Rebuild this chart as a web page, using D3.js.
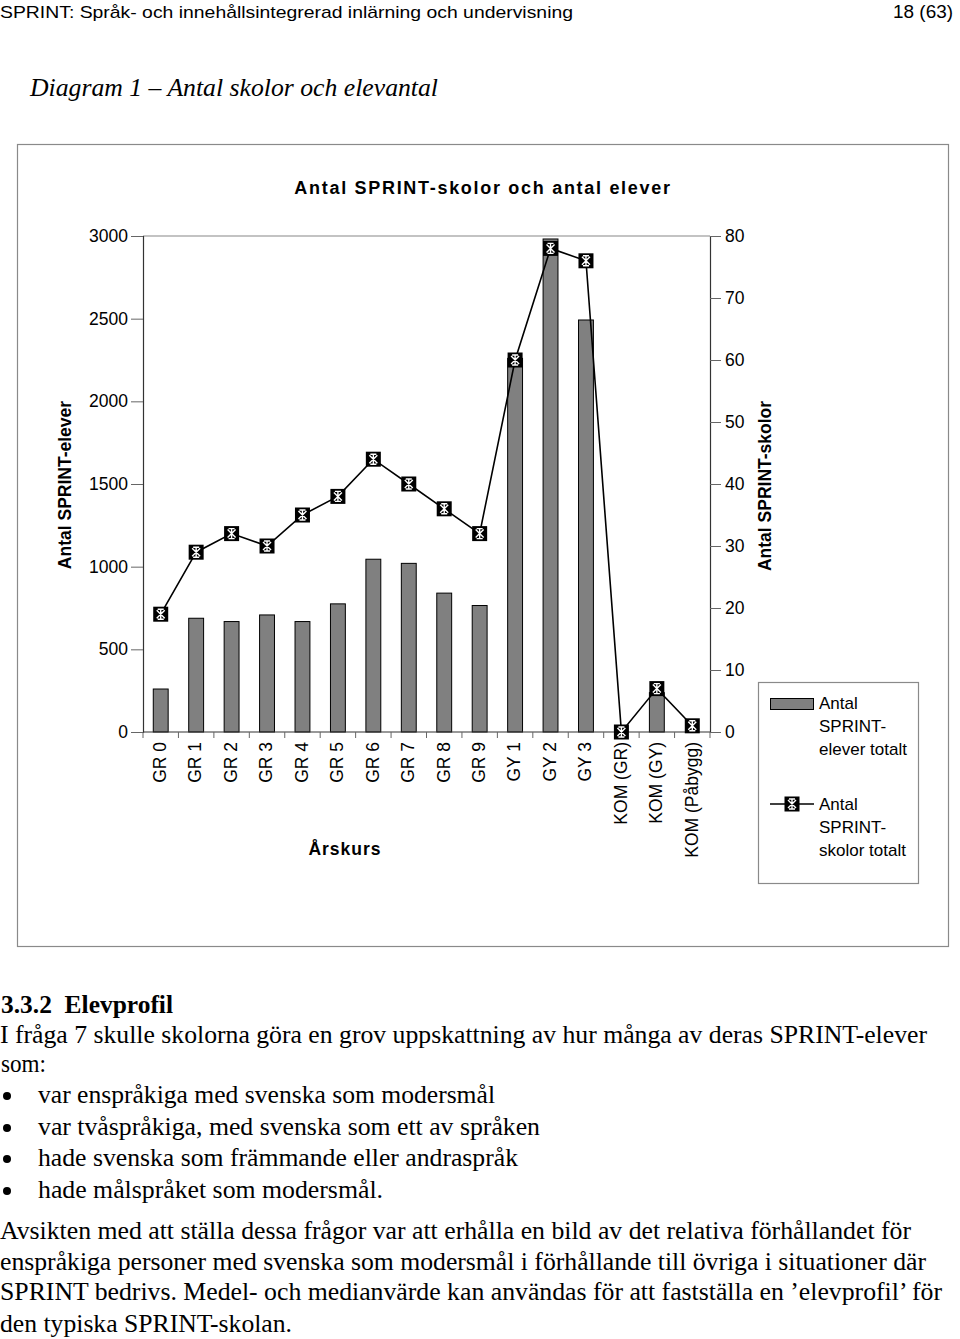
<!DOCTYPE html>
<html><head><meta charset="utf-8">
<script src="https://cdn.jsdelivr.net/npm/d3@7"></script>
<style>
html,body{margin:0;padding:0;background:#fff;}
svg{display:block;}
</style></head>
<body>
<svg id="page" width="960" height="1339"></svg>
<script>
const categories = ["GR 0","GR 1","GR 2","GR 3","GR 4","GR 5","GR 6","GR 7","GR 8","GR 9","GY 1","GY 2","GY 3","KOM (GR)","KOM (GY)","KOM (Påbygg)"];
const elever = [260, 688, 668, 708, 668, 775, 1045, 1020, 840, 765, 2260, 2982, 2492, 0, 238, 0];
const skolor = [19, 29, 32, 30, 35, 38, 44, 40, 36, 32, 60, 78, 76, 0, 7, 1];
const leftTicks = [0, 500, 1000, 1500, 2000, 2500, 3000];
const rightTicks = [0, 10, 20, 30, 40, 50, 60, 70, 80];
const chartTitle = "Antal SPRINT-skolor och antal elever";
const leftTitle = "Antal SPRINT-elever";
const rightTitle = "Antal SPRINT-skolor";
const xTitle = "Årskurs";
const legendBars = ["Antal", "SPRINT-", "elever totalt"];
const legendLine = ["Antal", "SPRINT-", "skolor totalt"];

const svg = d3.select("#page");
const SANS = "'Liberation Sans', Arial, sans-serif";
const SERIF = "'Liberation Serif', 'Times New Roman', serif";
const FS = 17.5;

// header
svg.append("text").attr("x", 0).attr("y", 18).attr("font-family", SANS).attr("font-size", 17)
  .attr("textLength", 573).attr("lengthAdjust", "spacingAndGlyphs")
  .text("SPRINT: Språk- och innehållsintegrerad inlärning och undervisning");
svg.append("text").attr("x", 893).attr("y", 18).attr("font-family", SANS).attr("font-size", 17.5)
  .attr("textLength", 60).attr("lengthAdjust", "spacingAndGlyphs").text("18 (63)");
svg.append("text").attr("x", 30).attr("y", 96).attr("font-family", SERIF).attr("font-size", 25)
  .attr("font-style", "italic").attr("textLength", 408).attr("lengthAdjust", "spacingAndGlyphs")
  .text("Diagram 1 – Antal skolor och elevantal");

// chart frame
svg.append("rect").attr("x", 17.5).attr("y", 144.5).attr("width", 931).attr("height", 802)
  .attr("fill", "#fff").attr("stroke", "#8a8a8a").attr("stroke-width", 1.2);

const L = 143, R = 710, T = 236, B = 732;
const x = d3.scaleBand().domain(categories).range([L, R]).padding(0);
const yL = d3.scaleLinear().domain([0, 3000]).range([B, T]);
const yR = d3.scaleLinear().domain([0, 80]).range([B, T]);

// title
svg.append("text").attr("x", 483).attr("y", 194).attr("text-anchor", "middle")
  .attr("font-family", SANS).attr("font-size", 18).attr("font-weight", "bold")
  .attr("letter-spacing", 1.7).text(chartTitle);

// plot area top border
svg.append("line").attr("x1", L).attr("x2", R).attr("y1", T).attr("y2", T)
  .attr("stroke", "#888").attr("stroke-width", 1.2);

// bars
const bw = x.bandwidth() * 0.42;
svg.append("g").selectAll("rect").data(categories).join("rect")
  .attr("x", (d) => x(d) + (x.bandwidth() - bw) / 2)
  .attr("y", (d, i) => yL(elever[i]))
  .attr("width", bw)
  .attr("height", (d, i) => B - yL(elever[i]))
  .attr("fill", "#808080").attr("stroke", "#000").attr("stroke-width", 1);

// axes
const axL = svg.append("g").attr("transform", `translate(${L},0)`)
  .call(d3.axisLeft(yL).tickValues(leftTicks).tickSize(12).tickPadding(3).tickFormat(d3.format("d")));
const axR = svg.append("g").attr("transform", `translate(${R},0)`)
  .call(d3.axisRight(yR).tickValues(rightTicks).tickSize(11).tickPadding(4).tickFormat(d3.format("d")));
[axL, axR].forEach(g => {
  g.select(".domain").attr("stroke", "#333").attr("stroke-width", 1.2);
  g.selectAll(".tick line").attr("stroke", "#666");
  g.selectAll(".tick text").attr("font-family", SANS).attr("font-size", FS).attr("fill", "#000");
});
// x axis
const boundaries = categories.map(d => x(d)).concat([R]);
const gx = svg.append("g");
gx.append("line").attr("x1", L).attr("x2", R).attr("y1", B).attr("y2", B).attr("stroke", "#333").attr("stroke-width", 1.2);
gx.selectAll("line.tk").data(boundaries).join("line").attr("class", "tk")
  .attr("x1", d => d).attr("x2", d => d).attr("y1", B).attr("y2", B + 6).attr("stroke", "#666");
gx.selectAll("text").data(categories).join("text")
  .attr("transform", d => `translate(${x(d) + x.bandwidth() / 2 - 1},742) rotate(-90)`)
  .attr("text-anchor", "end").attr("dy", "0.36em")
  .attr("font-family", SANS).attr("font-size", FS).text(d => d);

// line series
const line = d3.line().x((d, i) => x(categories[i]) + x.bandwidth() / 2).y(d => yR(d));
svg.append("path").datum(skolor).attr("d", line).attr("fill", "none")
  .attr("stroke", "#000").attr("stroke-width", 1.6);

function marker(g) {
  g.append("rect").attr("x", -7.5).attr("y", -7.5).attr("width", 15).attr("height", 15).attr("fill", "#000");
  const p = "M-4,-4L4,4M-4,4L4,-4M0,-5L0,5M-3,-5L3,-5M-3,5L3,5";
  g.append("path").attr("d", p).attr("stroke", "#fff").attr("stroke-width", 1.4).attr("fill", "none");
}
svg.append("g").selectAll("g").data(skolor).join("g")
  .attr("transform", (d, i) => `translate(${x(categories[i]) + x.bandwidth() / 2},${yR(d)})`)
  .each(function () { marker(d3.select(this)); });

// axis titles
svg.append("text").attr("transform", "translate(71,485) rotate(-90)").attr("text-anchor", "middle")
  .attr("font-family", SANS).attr("font-size", FS).attr("font-weight", "bold").text(leftTitle);
svg.append("text").attr("transform", "translate(771,486) rotate(-90)").attr("text-anchor", "middle")
  .attr("font-family", SANS).attr("font-size", FS).attr("font-weight", "bold").text(rightTitle);
svg.append("text").attr("x", 345).attr("y", 855).attr("text-anchor", "middle")
  .attr("font-family", SANS).attr("font-size", FS).attr("font-weight", "bold")
  .attr("letter-spacing", 1).text(xTitle);

// legend
svg.append("rect").attr("x", 758.5).attr("y", 682.5).attr("width", 160).attr("height", 201)
  .attr("fill", "#fff").attr("stroke", "#8a8a8a").attr("stroke-width", 1.2);
svg.append("rect").attr("x", 770.5).attr("y", 698.5).attr("width", 43).attr("height", 11)
  .attr("fill", "#808080").attr("stroke", "#000");
svg.append("line").attr("x1", 770).attr("x2", 814).attr("y1", 804).attr("y2", 804).attr("stroke", "#000").attr("stroke-width", 1.6);
marker(svg.append("g").attr("transform", "translate(792,804)"));
const lg = svg.append("g").attr("font-family", SANS).attr("font-size", 17);
legendBars.forEach((t, i) => lg.append("text").attr("x", 819).attr("y", 709 + i * 23).text(t));
legendLine.forEach((t, i) => lg.append("text").attr("x", 819).attr("y", 810 + i * 23).text(t));

// body text
const body = svg.append("g").attr("font-family", SERIF).attr("font-size", 25);
body.append("text").attr("x", 1).attr("y", 1013).attr("font-weight", "bold")
  .attr("textLength", 172).attr("lengthAdjust", "spacingAndGlyphs").attr("xml:space", "preserve").text("3.3.2  Elevprofil");
const lines = [
  [0, 1043, 927, "I fråga 7 skulle skolorna göra en grov uppskattning av hur många av deras SPRINT-elever"],
  [1, 1072, 45, "som:"],
  [38, 1103, 457, "var enspråkiga med svenska som modersmål"],
  [38, 1135, 502, "var tvåspråkiga, med svenska som ett av språken"],
  [38, 1166, 480, "hade svenska som främmande eller andraspråk"],
  [38, 1198, 345, "hade målspråket som modersmål."],
  [0, 1239, 911, "Avsikten med att ställa dessa frågor var att erhålla en bild av det relativa förhållandet för"],
  [0, 1270, 926, "enspråkiga personer med svenska som modersmål i förhållande till övriga i situationer där"],
  [0, 1300, 942, "SPRINT bedrivs. Medel- och medianvärde kan användas för att fastställa en ’elevprofil’ för"],
  [0, 1332, 292, "den typiska SPRINT-skolan."]
];
lines.forEach(([lx, ly, w, t]) => body.append("text").attr("x", lx).attr("y", ly)
  .attr("textLength", w).attr("lengthAdjust", "spacingAndGlyphs").text(t));
[1096, 1128, 1159, 1191].forEach(cy => body.append("circle").attr("cx", 7).attr("cy", cy).attr("r", 4).attr("fill", "#000"));
</script>
</body></html>
